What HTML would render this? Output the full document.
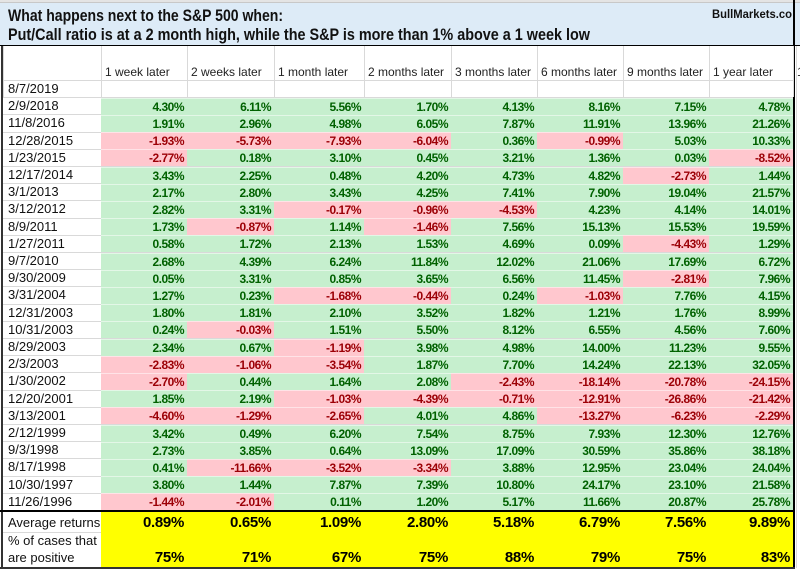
<!DOCTYPE html>
<html><head><meta charset="utf-8">
<style>
html,body{margin:0;padding:0;background:#fff;}
#wrap{position:relative;width:800px;height:570px;overflow:hidden;font-family:"Liberation Sans",Arial,sans-serif;background:#fff;}
.c{position:absolute;box-sizing:border-box;white-space:nowrap;}
.lbl{font-size:13px;color:#111;padding-left:5px;line-height:17px;}
.hdr{font-size:12px;color:#222;padding-left:4px;}
.val{font-size:12px;font-weight:bold;text-align:right;padding-right:3px;line-height:17px;letter-spacing:-0.5px;}
.pos{background:#C6EFCE;color:#006100;}
.neg{background:#FFC7CE;color:#9C0006;}
.yel{background:#FFFF00;}
.big{font-size:15px;font-weight:bold;text-align:right;padding-right:3px;color:#000;letter-spacing:-0.3px;}
</style></head>
<body>
<div id="wrap">
<div class="c" style="left:0;top:0;width:800px;height:3px;background:#e4e4e4;border-bottom:1px solid #c8c8c8"></div>
<div class="c" style="left:0;top:3px;width:800px;height:43px;background:#DDEBF7;border-bottom:1.5px solid #000"></div>
<svg class="c" style="left:0;top:0" width="800" height="46">
<text x="8" y="21" font-family="Liberation Sans, Arial, sans-serif" font-weight="bold" font-size="17" textLength="275" lengthAdjust="spacingAndGlyphs" fill="#111">What happens next to the S&amp;P 500 when:</text>
<text x="8" y="40" font-family="Liberation Sans, Arial, sans-serif" font-weight="bold" font-size="17" textLength="582" lengthAdjust="spacingAndGlyphs" fill="#111">Put/Call ratio is at a 2 month high, while the S&amp;P is more than 1% above a 1 week low</text>
<text x="712" y="18" font-family="Liberation Sans, Arial, sans-serif" font-weight="bold" font-size="12" textLength="80" lengthAdjust="spacingAndGlyphs" fill="#111">BullMarkets.co</text>
</svg>
<div class="c" style="left:1px;top:46px;width:2px;height:522px;background:#333"></div>
<div class="c" style="left:793px;top:0;width:2px;height:568px;background:#000"></div>
</div>
<script>
const dates=["8/7/2019","2/9/2018","11/8/2016","12/28/2015","1/23/2015","12/17/2014","3/1/2013","3/12/2012","8/9/2011","1/27/2011","9/7/2010","9/30/2009","3/31/2004","12/31/2003","10/31/2003","8/29/2003","2/3/2003","1/30/2002","12/20/2001","3/13/2001","2/12/1999","9/3/1998","8/17/1998","10/30/1997","11/26/1996"];
const headers=["1 week later","2 weeks later","1 month later","2 months later","3 months later","6 months later","9 months later","1 year later"];
const week1=[4.30,1.91,-1.93,-2.77,3.43,2.17,2.82,1.73,0.58,2.68,0.05,1.27,1.80,0.24,2.34,-2.83,-2.70,1.85,-4.60,3.42,2.73,0.41,3.80,-1.44];
const week2=[6.11,2.96,-5.73,0.18,2.25,2.80,3.31,-0.87,1.72,4.39,3.31,0.23,1.81,-0.03,0.67,-1.06,0.44,2.19,-1.29,0.49,3.85,-11.66,1.44,-2.01];
const month1=[5.56,4.98,-7.93,3.10,0.48,3.43,-0.17,1.14,2.13,6.24,0.85,-1.68,2.10,1.51,-1.19,-3.54,1.64,-1.03,-2.65,6.20,0.64,-3.52,7.87,0.11];
const month2=[1.70,6.05,-6.04,0.45,4.20,4.25,-0.96,-1.46,1.53,11.84,3.65,-0.44,3.52,5.50,3.98,1.87,2.08,-4.39,4.01,7.54,13.09,-3.34,7.39,1.20];
const month3=[4.13,7.87,0.36,3.21,4.73,7.41,-4.53,7.56,4.69,12.02,6.56,0.24,1.82,8.12,4.98,7.70,-2.43,-0.71,4.86,8.75,17.09,3.88,10.80,5.17];
const month6=[8.16,11.91,-0.99,1.36,4.82,7.90,4.23,15.13,0.09,21.06,11.45,-1.03,1.21,6.55,14.00,14.24,-18.14,-12.91,-13.27,7.93,30.59,12.95,24.17,11.66];
const month9=[7.15,13.96,5.03,0.03,-2.73,19.04,4.14,15.53,-4.43,17.69,-2.81,7.76,1.76,4.56,11.23,22.13,-20.78,-26.86,-6.23,12.30,35.86,23.04,23.10,20.87];
const year1=[4.78,21.26,10.33,-8.52,1.44,21.57,14.01,19.59,1.29,6.72,7.96,4.15,8.99,7.60,9.55,32.05,-24.15,-21.42,-2.29,12.76,38.18,24.04,21.58,25.78];
const series=[week1,week2,month1,month2,month3,month6,month9,year1];
const averages=["0.89%","0.65%","1.09%","2.80%","5.18%","6.79%","7.56%","9.89%"];
const positivePct=["75%","71%","67%","75%","88%","79%","75%","83%"];

const wrap=document.getElementById('wrap');
const colX=[3,101,187,274,364,451,537,623,709,793];
const rowTop=r=>80+r*17.2;
function mk(cls,style,text){const d=document.createElement('div');d.className='c '+cls;d.style.cssText=style;if(text!=null)d.textContent=text;wrap.appendChild(d);return d;}

for(let i=0;i<colX.length;i++){
  const g=mk('','left:'+colX[i]+'px;top:46px;width:1px;height:51px;background:#d9d9d9');
  
  
}
mk('','left:796px;top:46px;width:1px;height:522px;background:#d9d9d9');
for(let r=0;r<=25;r++){
  const g=mk('','left:3px;top:'+Math.round(rowTop(r))+'px;width:790px;height:1px;background:#d9d9d9');
  
  
}
headers.forEach((h,i)=>{
  const d=mk('hdr','left:'+colX[i+1]+'px;top:64px;width:'+(colX[i+2]-colX[i+1])+'px;height:16px;line-height:16px',h);
  
  
});
const ex=mk('hdr','left:793px;top:64px;width:10px;height:16px;line-height:16px','1');


dates.forEach((dt,r)=>{
  const d=mk('lbl','left:3px;top:'+rowTop(r)+'px;width:98px;height:17px',dt);
  
  
});
series.forEach((vals,ci)=>{
  vals.forEach((v,ri)=>{
    const r=ri+1;
    const d=mk('val '+(v<0?'neg':'pos'),'left:'+colX[ci+1]+'px;top:'+(rowTop(r)+0.6)+'px;width:'+(colX[ci+2]-colX[ci+1])+'px;height:17px;border-top:0.6px solid rgba(255,255,255,0.5)',v.toFixed(2)+'%');
    
    
  });
});
const top0=rowTop(25);
const sep=mk('','left:0;top:'+(top0-0.5)+'px;width:795px;height:2px;background:#000');


const yel=mk('yel','left:101px;top:'+(top0+1.5)+'px;width:692px;height:'+(567-top0-1.5)+'px');


const l1=mk('lbl','left:3px;top:'+(top0+4)+'px;width:98px;height:17px','Average returns');


const gl=mk('','left:3px;top:532px;width:98px;height:1px;background:#d9d9d9');


const l2=mk('lbl','left:3px;top:532px;width:98px;height:17px','% of cases that');


const l3=mk('lbl','left:3px;top:549px;width:98px;height:17px','are positive');


averages.forEach((a,i)=>{
  const d=mk('big','left:'+colX[i+1]+'px;top:'+(top0+3)+'px;width:'+(colX[i+2]-colX[i+1])+'px;height:19px;line-height:19px',a);
  
  
});
positivePct.forEach((p,i)=>{
  const d=mk('big','left:'+colX[i+1]+'px;top:548px;width:'+(colX[i+2]-colX[i+1])+'px;height:19px;line-height:19px',p);
  
  
});
const bb=mk('','left:0;top:567px;width:795px;height:2px;background:#333');


</script>
</body></html>
